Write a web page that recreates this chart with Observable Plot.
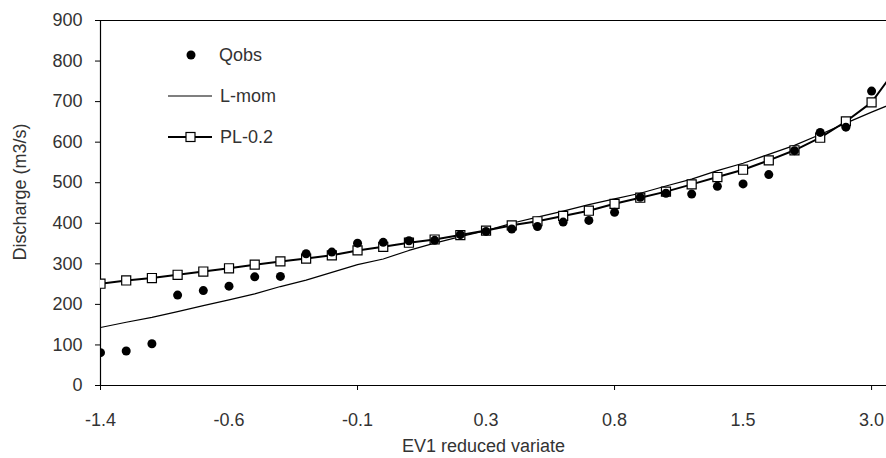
<!DOCTYPE html>
<html><head><meta charset="utf-8">
<script src="https://cdn.jsdelivr.net/npm/d3@7"></script>
<script src="https://cdn.jsdelivr.net/npm/@observablehq/plot@0.6"></script>
<style>
body{margin:0;background:#fff;overflow:hidden;}
#wrap{position:relative;width:886px;height:458px;overflow:hidden;}
#legend{position:absolute;left:0;top:0;}
</style></head><body>
<div id="wrap"><div id="chart"></div>
<svg id="legend" width="320" height="160" style="font-family:'Liberation Sans',Arial,sans-serif;font-size:18px;">
  <circle cx="191" cy="55" r="4.5" fill="#000"></circle>
  <text x="219" y="55" dy="0.35em" fill="#333">Qobs</text>
  <line x1="168" x2="212" y1="96" y2="96" stroke="#000" stroke-width="1.2"></line>
  <text x="220" y="96" dy="0.35em" fill="#333">L-mom</text>
  <line x1="168" x2="212" y1="137" y2="137" stroke="#000" stroke-width="2"></line>
  <rect x="186" y="132.5" width="9" height="9" fill="#fff" stroke="#000" stroke-width="1.2"></rect>
  <text x="220" y="137" dy="0.35em" fill="#333">PL-0.2</text>
</svg></div>
<script>
// EV1 reduced variate of each ranked observation (categories, evenly spaced on the axis)
const variate = [-1.398, -1.107, -0.928, -0.788, -0.669, -0.562, -0.463, -0.369, -0.280, -0.192,
  -0.107, -0.022, 0.063, 0.148, 0.234, 0.322, 0.412, 0.505, 0.601, 0.701,
  0.807, 0.920, 1.040, 1.172, 1.316, 1.477, 1.660, 1.875, 2.142, 2.488, 2.999, 4.050];
// Observed discharges (m3/s)
const qobs = [81, 85, 103, 223, 234, 245, 268, 269, 325, 329, 351, 353, 357, 358, 372, 380,
  386, 392, 403, 407, 427, 464, 474, 472, 491, 497, 520, 579, 624, 637, 726, 840];
// L-moment fit
const lmom = [143, 156, 168, 182, 197, 211, 226, 244, 260, 279, 298, 312, 333, 351, 367, 382,
  400, 415, 430, 446, 460, 474, 492, 509, 530, 548, 570, 592, 619, 647, 674, 700];
// PL-0.2 fit
const pl = [251, 259, 265, 273, 281, 289, 298, 306, 313, 321, 333, 342, 352, 360, 371, 382,
  395, 405, 418, 431, 448, 463, 478, 496, 514, 532, 555, 580, 611, 651, 698, 785];
const yTicks = [0, 100, 200, 300, 400, 500, 600, 700, 800, 900];
const labelIdx = [0, 5, 10, 15, 20, 25, 30];
const tickIdx = [0, 10, 20, 30];

const rows = variate.map((v, i) => ({i, v, qobs: qobs[i], lmom: lmom[i], pl: pl[i]}));

const chart = Plot.plot({
  width: 886, height: 458,
  marginLeft: 100, marginRight: 0, marginTop: 20, marginBottom: 73,
  style: {fontFamily: "'Liberation Sans', Arial, sans-serif", fontSize: "18px", color: "#333", background: "#fff"},
  x: {type: "linear", domain: [0, 30.58]},
  y: {domain: [0, 900]},
  marks: [
    Plot.axisY({ticks: yTicks, tickSize: 5, tickPadding: 13, label: null, fontSize: 18, stroke: "#000"}),
    Plot.axisX({ticks: tickIdx, tickSize: 5, tickFormat: () => "", label: null, stroke: "#000"}),
    Plot.axisX({ticks: labelIdx, tickSize: 0, tickPadding: 28, tickFormat: i => variate[i].toFixed(1), label: null, fontSize: 18}),
    Plot.text(["Discharge (m3/s)"], {frameAnchor: "left", textAnchor: "middle", dx: -80, dy: -11, rotate: -90, fontSize: 18, fill: "#333"}),
    Plot.text(["EV1 reduced variate"], {x: 14.9, y: 0, dy: 61, fontSize: 18, fill: "#333"}),
    Plot.ruleY([0, 900], {stroke: "#000", strokeWidth: 1.2}),
    Plot.ruleX([0], {stroke: "#000", strokeWidth: 1.2}),
    Plot.line(rows, {x: "i", y: "lmom", stroke: "#000", strokeWidth: 1.2, clip: true}),
    Plot.line(rows, {x: "i", y: "pl", stroke: "#000", strokeWidth: 2, clip: true}),
    Plot.dot(rows, {x: "i", y: "pl", symbol: "square", r: 5.1, fill: "#fff", stroke: "#000", strokeWidth: 1.2, clip: true}),
    Plot.dot(rows, {x: "i", y: "qobs", r: 4.5, fill: "#000", clip: true})
  ]
});
document.getElementById("chart").appendChild(chart);
</script>
</body></html>
